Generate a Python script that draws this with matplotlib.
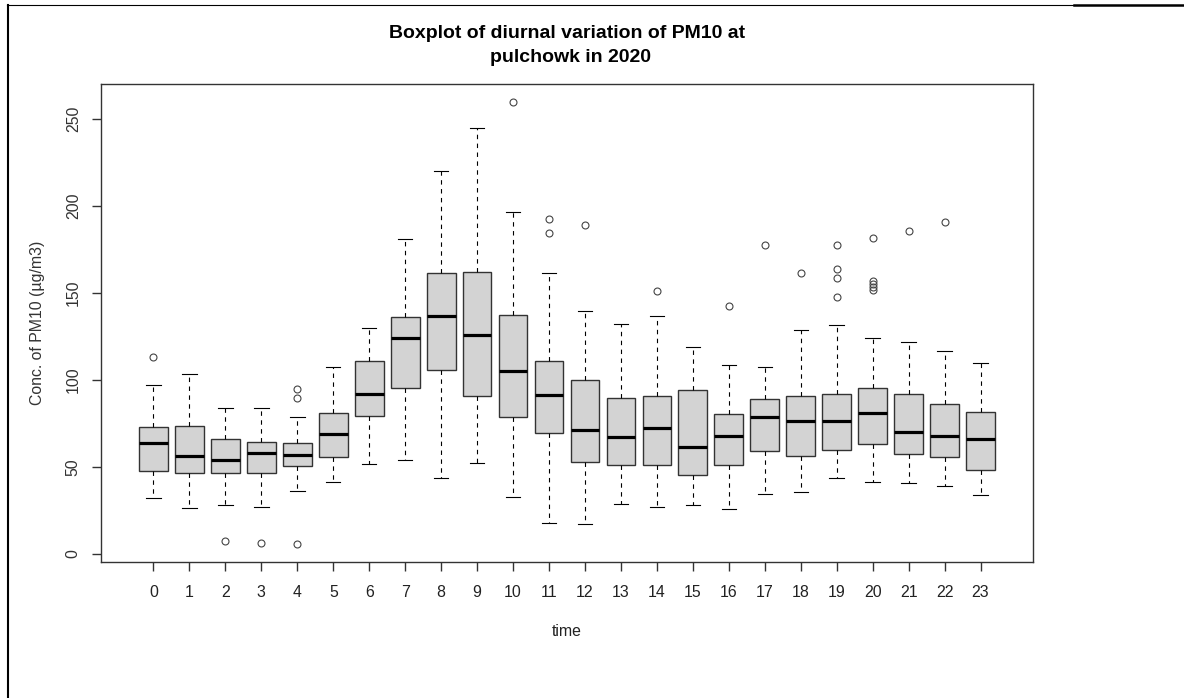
import matplotlib
matplotlib.use("Agg")
import matplotlib.pyplot as plt
from matplotlib.lines import Line2D

plt.rcParams['font.family'] = ['Liberation Sans', 'DejaVu Sans']

# hourly box statistics (PM10, ug/m3)
hours = list(range(24))
whislo = [32.2, 26.2, 27.9, 26.8, 36.2, 41.3, 51.7, 53.8, 43.7, 52.3, 32.7, 18.0,
          17.4, 28.5, 26.8, 27.9, 25.7, 34.3, 35.4, 43.7, 41.4, 40.8, 39.1, 33.7]
q1 = [47.7, 46.5, 46.5, 46.5, 50.5, 55.9, 79.1, 95.3, 105.9, 90.8, 78.5, 69.3,
      53.0, 51.1, 51.1, 45.4, 51.1, 59.4, 56.5, 59.9, 63.4, 57.6, 55.9, 48.4]
med = [63.6, 56.5, 54.2, 57.8, 57.1, 68.7, 92.0, 123.9, 136.7, 125.6, 105.3, 91.3,
       71.0, 67.0, 72.2, 61.7, 67.6, 78.5, 76.2, 76.2, 80.8, 69.9, 67.6, 65.9]
q3 = [72.8, 73.3, 66.2, 64.1, 63.6, 80.8, 111.0, 136.1, 161.2, 162.2, 137.1, 111.0,
      99.9, 89.4, 90.8, 94.2, 80.2, 88.8, 90.8, 91.9, 95.3, 91.9, 86.2, 81.4]
whishi = [97.3, 103.4, 83.7, 83.7, 78.6, 107.2, 129.6, 180.7, 220.2, 244.9, 196.4, 161.6,
          139.8, 131.9, 136.7, 118.7, 108.6, 107.6, 128.5, 131.3, 124.3, 122.0, 116.8, 109.9]
fliers = [[113.0], [], [7.7], [6.5], [94.8, 89.6, 5.9], [], [], [], [], [], [259.4],
          [192.4, 184.2], [189.0], [], [151.3], [], [142.4], [177.3], [161.6],
          [177.3, 163.5, 158.3, 147.6], [181.5, 156.8, 155.2, 153.6, 151.6],
          [185.5], [190.7], []]

stats = []
for i in range(len(hours)):
    stats.append(dict(whislo=whislo[i], q1=q1[i], med=med[i], q3=q3[i],
                      whishi=whishi[i], fliers=fliers[i], label=str(hours[i])))

fig = plt.figure(figsize=(11.84, 6.98), dpi=100)
ax = fig.add_axes([101/1184, 1 - 562/698, 932/1184, 478/698])

ax.bxp(stats, positions=hours, widths=0.8, patch_artist=True,
       boxprops=dict(facecolor='#d3d3d3', edgecolor='#333333', linewidth=1.0),
       medianprops=dict(color='black', linewidth=2.3, solid_capstyle='butt'),
       whiskerprops=dict(color='black', linewidth=0.8, linestyle=(0, (4, 4))),
       capprops=dict(color='black', linewidth=0.8),
       capwidths=0.4,
       flierprops=dict(marker='o', markerfacecolor='none', markeredgecolor='#444444',
                       markersize=5, markeredgewidth=0.8, linestyle='none'))

ax.set_xlim(-1.46, 24.46)
ax.set_ylim(-4.6, 270)
ax.set_xticks(hours)
ax.set_xticklabels([str(h) for h in hours])
ax.set_yticks([0, 50, 100, 150, 200, 250])

for s in ax.spines.values():
    s.set_color('#333333')
    s.set_linewidth(1.0)

fs = 11.4
ax.tick_params(axis='x', length=6.5, width=1, color='#333333', pad=10,
               labelsize=fs, labelcolor='#222222')
ax.tick_params(axis='y', length=6.5, width=1, color='#333333', pad=8,
               labelsize=fs, labelcolor='#333333', labelrotation=90)
for lbl in ax.get_yticklabels():
    lbl.set_va('center')

ax.set_xlabel('time', fontsize=fs, color='#222222', labelpad=17)
ax.set_ylabel('Conc. of PM10 (µg/m3)', fontsize=fs, color='#333333', labelpad=15)

fig.text(567/1184, 1 - 33/698, 'Boxplot of diurnal variation of PM10 at',
         ha='center', va='center', fontsize=14, fontweight='bold')
fig.text(571/1184, 1 - 58/698, 'pulchowk in 2020',
         ha='center', va='center', fontsize=14, fontweight='bold')

# outer page frame
fig.add_artist(Line2D([8/1184, 8/1184], [0, 1 - 5/698], transform=fig.transFigure,
                      color='black', linewidth=1.5))
fig.add_artist(Line2D([7/1184, 1074/1184], [1 - 4.5/698, 1 - 4.5/698],
                      transform=fig.transFigure, color='black', linewidth=0.8))
fig.add_artist(Line2D([1074/1184, 1], [1 - 5/698, 1 - 5/698],
                      transform=fig.transFigure, color='black', linewidth=1.8))

fig.savefig('out.png', dpi=100)
